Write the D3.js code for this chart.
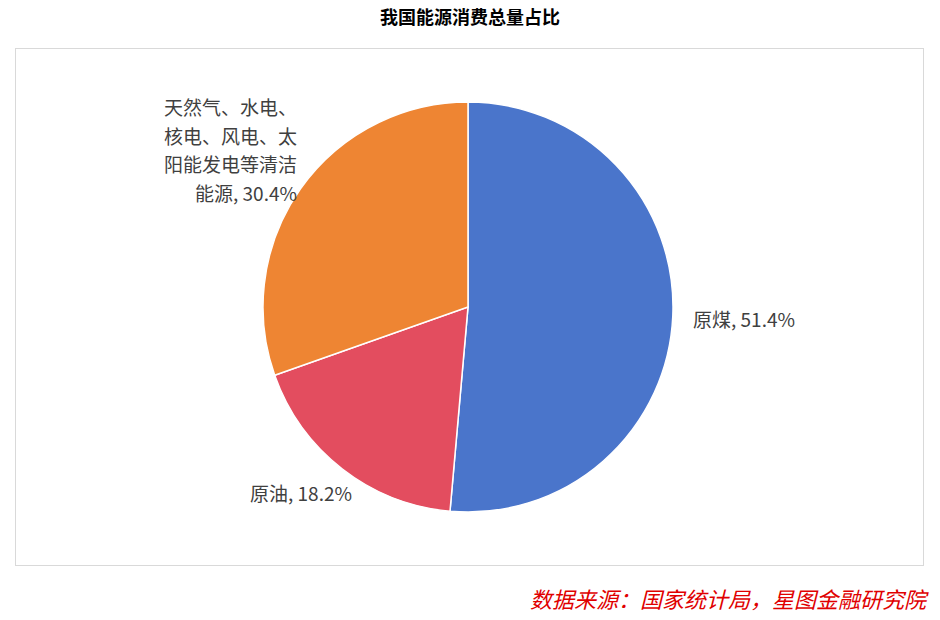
<!DOCTYPE html>
<html><head><meta charset="utf-8">
<script src="https://cdn.jsdelivr.net/npm/d3@7"></script>
<style>body{margin:0;background:#fff;font-family:"Noto Sans CJK SC","Noto Sans",sans-serif}</style>
</head><body>
<svg id="chart" width="940" height="620"></svg>
<script>
// data
const categories = ["原煤", "原油", "天然气、水电、核电、风电、太阳能发电等清洁能源"]
const values = [51.4, 18.2, 30.4]
const colors = ["#4A75CB", "#E34D5F", "#EE8533"]
const labelLines = [["原煤, 51.4%"], ["原油, 18.2%"], ["天然气、水电、", "核电、风电、太", "阳能发电等清洁", "能源, 30.4%"]]

const svg = d3.select("#chart")
svg.append("rect").attr("x", 15.5).attr("y", 48.5).attr("width", 908).attr("height", 517)
  .attr("fill", "#fff").attr("stroke", "#d9d9d9")

svg.append("text").attr("x", 470).attr("y", 24).attr("text-anchor", "middle")
  .attr("font-size", 18).attr("font-weight", "bold").attr("fill", "#000").text("我国能源消费总量占比")

const cx = 468, cy = 307, r = 205
const pie = d3.pie().sort(null).value(d => d)
const arc = d3.arc().innerRadius(0).outerRadius(r)
const arcs = pie(values)
const g = svg.append("g").attr("transform", `translate(${cx},${cy})`)
g.selectAll("path").data(arcs).join("path")
  .attr("d", arc).attr("fill", (d, i) => colors[i]).attr("stroke", "#fff").attr("stroke-width", 1.5)

// label anchors: placed outside each slice
const labelPos = [
  { x: 693, y: 327, anchor: "start" },
  { x: 352, y: 501, anchor: "end" },
  { x: 297, y: 115, anchor: "end" }
]
labelLines.forEach((lines, i) => {
  const t = svg.append("text").attr("font-size", 19).attr("fill", "#404040")
    .attr("text-anchor", labelPos[i].anchor)
  lines.forEach((s, k) => t.append("tspan").attr("x", labelPos[i].x).attr("y", labelPos[i].y + k * 28.5).text(s))
})

svg.append("text").attr("x", 926).attr("y", 608).attr("text-anchor", "end")
  .attr("font-size", 22).attr("font-style", "italic").attr("fill", "#e00000")
  .attr("font-family", "'Noto Sans CJK SC',serif")
  .text("数据来源：国家统计局，星图金融研究院")
</script>
</body></html>
